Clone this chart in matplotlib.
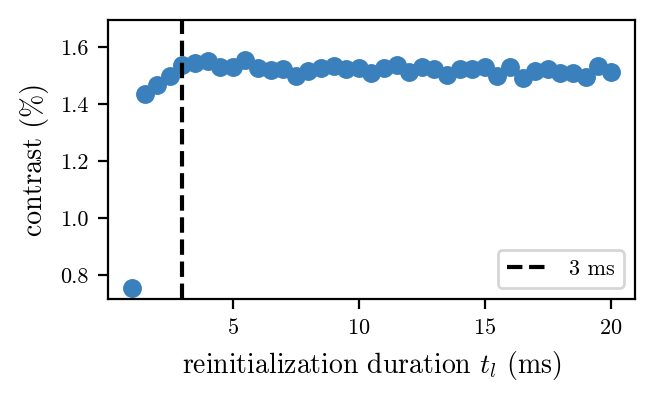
import matplotlib
matplotlib.use("Agg")
import matplotlib.pyplot as plt
import numpy as np

plt.rcParams['font.family'] = 'serif'
plt.rcParams['font.serif'] = ['cmr10', 'DejaVu Serif']
plt.rcParams['mathtext.fontset'] = 'cm'
plt.rcParams['axes.formatter.use_mathtext'] = True

durations = [1.0, 1.5, 2.0, 2.5, 3.0, 3.5, 4.0, 4.5, 5.0, 5.5, 6.0, 6.5, 7.0, 7.5,
             8.0, 8.5, 9.0, 9.5, 10.0, 10.5, 11.0, 11.5, 12.0, 12.5, 13.0, 13.5,
             14.0, 14.5, 15.0, 15.5, 16.0, 16.5, 17.0, 17.5, 18.0, 18.5, 19.0,
             19.5, 20.0]
contrast = [0.755, 1.435, 1.465, 1.497, 1.538, 1.544, 1.552, 1.530, 1.528, 1.553,
            1.526, 1.519, 1.522, 1.499, 1.514, 1.527, 1.533, 1.522, 1.526, 1.509,
            1.525, 1.535, 1.513, 1.528, 1.521, 1.503, 1.524, 1.523, 1.530, 1.499,
            1.530, 1.492, 1.515, 1.522, 1.509, 1.508, 1.493, 1.532, 1.511]
vline_x = 3
vline_label = "3 ms"

fig, ax = plt.subplots(figsize=(3.275, 1.99), dpi=200)
ax.plot(durations, contrast, 'o', color='#3a80bd', markersize=6.8, markeredgewidth=0, zorder=2)
ax.axvline(vline_x, color='black', linestyle='--', linewidth=1.5, label=vline_label, zorder=3)
ax.set_ylim(0.716, 1.695)
ax.set_xticks([5, 10, 15, 20])
ax.set_yticks([0.8, 1.0, 1.2, 1.4, 1.6])
ax.yaxis.set_major_formatter(matplotlib.ticker.FormatStrFormatter('%.1f'))
ax.tick_params(labelsize=8, width=0.8, length=3.5)
ax.set_xlabel(r"reinitialization duration $t_l$ (ms)", fontsize=10)
ax.set_ylabel("contrast (%)", fontsize=10)
ax.legend(loc='lower right', fontsize=8)
fig.subplots_adjust(left=0.165, right=0.969, top=0.95, bottom=0.249)
fig.savefig("out.png", dpi=200)
